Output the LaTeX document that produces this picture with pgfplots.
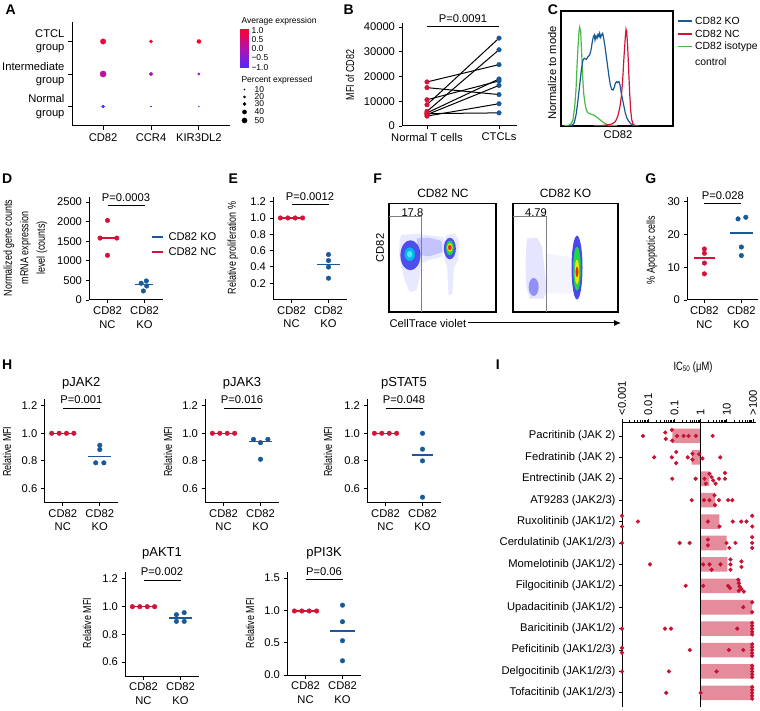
\documentclass[border=0pt]{standalone}
\usepackage{fontspec}
\setmainfont{Liberation Sans}
\newfontfamily\condensed[FakeStretch=0.78]{Liberation Sans}
\usepackage{pgfplots}
\pgfplotsset{compat=1.18}
\usetikzlibrary{arrows.meta}
\definecolor{cred}{RGB}{210,20,58}
\definecolor{cblue}{RGB}{25,90,150}
\definecolor{cgreen}{RGB}{70,185,70}
\definecolor{barcol}{RGB}{228,140,155}
\definecolor{idot}{RGB}{200,16,50}
\definecolor{halo}{RGB}{110,110,255}
\definecolor{fblue}{RGB}{40,40,235}
\definecolor{fcyan}{RGB}{0,185,235}
\definecolor{flcyan}{RGB}{80,230,240}
\definecolor{fgreen}{RGB}{30,215,70}
\definecolor{fyellow}{RGB}{245,225,0}
\definecolor{fred}{RGB}{240,40,10}
\newcommand\fs{\fontsize{11.2}{13.5}\selectfont}
\newcommand\cfs{\condensed\fontsize{11.5}{16.5}\selectfont}
\newcommand\lfs{\fontsize{8.5}{10}\selectfont}
\newcommand\tfs{\fontsize{13}{15}\selectfont}
\newcommand\letfs{\bfseries\fontsize{14}{14}\selectfont}
\pgfplotsset{
  prism/.style={
    scale only axis, anchor=south west, clip=false,
    axis x line*=bottom, axis y line*=left,
    axis line style={line width=1pt,-},
    tick align=outside, major tick length=3.5pt,
    tick style={line width=0.9pt, black},
    xmin=-0.5, xmax=1.5, width=74pt,
    xtick={0,1}, xticklabels={CD82\\NC,CD82\\KO},
    xticklabel style={align=center, font=\fs},
    yticklabel style={font=\fs},
    scaled y ticks=false,
  },
  rdot/.style={only marks, mark=*, mark size=2.3pt, color=cred},
  bdot/.style={only marks, mark=*, mark size=2.3pt, color=cblue},
  rmed/.style={color=cred, line width=1.3pt, no marks},
  bmed/.style={color=cblue, line width=1.3pt, no marks},
  pbar/.style={black, line width=1pt, no marks},
  ctclmap/.style={colormap={ctcl}{rgb255=(80,40,255) rgb255=(175,20,175) rgb255=(255,0,45)}},
}
\begin{document}
\begin{tikzpicture}[x=1pt,y=1pt]
\path[use as bounding box] (0,0) rectangle (760,710);
% ---------------- A ----------------
\begin{axis}[scale only axis, anchor=south west, at={(72pt,584pt)}, width=158pt, height=104pt, clip=false,
  xmin=-0.65, xmax=2.65, ymin=-0.6, ymax=2.6,
  axis x line*=bottom, axis y line*=left, axis line style={line width=1pt,-},
  tick align=outside, major tick length=4pt, tick style={line width=0.9pt,black},
  xtick={0,1,2}, xticklabels={CD82,CCR4,KIR3DL2},
  ytick={0,1,2}, yticklabels={Normal\\group,Intermediate\\group,CTCL\\group},
  xticklabel style={font=\fs}, yticklabel style={font=\fs, align=right},
  ctclmap, point meta min=-1, point meta max=1]
\addplot[scatter, only marks, mark=*, point meta=explicit,
  scatter/use mapped color={draw=mapped color, fill=mapped color},
  visualization depends on={\thisrow{r} \as \rr},
  scatter/@pre marker code/.append style={/tikz/mark size=\rr}]
  table[x=x, y=y, meta=c, row sep=\\] {
  x y c r\\
  0 2 0.9 2.7\\
  1 2 1.0 1.5\\
  2 2 1.0 2.0\\
  0 1 0.15 3.1\\
  1 1 0.0 1.9\\
  2 1 -0.25 1.3\\
  0 0 -1.0 1.4\\
  1 0 -0.95 0.7\\
  2 0 -0.8 0.5\\
  };
\end{axis}
% colorbar
\begin{axis}[scale only axis, anchor=south west, at={(240pt,642pt)}, width=8pt, height=39pt,
  xmin=0, xmax=1, ymin=-1.05, ymax=1.1, xtick=\empty,
  ytick={-1,-0.5,0,0.5,1}, yticklabels={−1.0,−0.5,0.0,0.5,1.0},
  yticklabel pos=right, ytick pos=right, major tick length=0pt,
  axis line style={draw=none}, yticklabel style={font=\lfs},
  ctclmap, point meta min=-1, point meta max=1]
\addplot[surf, shader=interp, mesh/cols=2, point meta=\thisrow{c}] table[row sep=\\] {
  x y c\\
  0 -1.05 -1.05\\
  1 -1.05 -1.05\\
  0 1.1 1.1\\
  1 1.1 1.1\\
  };
\end{axis}
% legends drawn in a picture-sized overlay axis (pixel units, y downward negative)
\begin{axis}[scale only axis, anchor=south west, at={(0pt,0pt)}, width=760pt, height=710pt,
  xmin=0, xmax=760, ymin=-710, ymax=0, hide axis, clip=false]
% percent expressed
\addplot[only marks, mark=*, black, mark size=0.7pt] coordinates {(244.5,-89.5)};
\addplot[only marks, mark=*, black, mark size=1.2pt] coordinates {(244.5,-97)};
\addplot[only marks, mark=*, black, mark size=1.7pt] coordinates {(244.5,-104)};
\addplot[only marks, mark=*, black, mark size=2.1pt] coordinates {(244.5,-112)};
\addplot[only marks, mark=*, black, mark size=2.6pt] coordinates {(244.5,-120.5)};
% C legend
\addplot[cblue, line width=1.3pt] coordinates {(678,-21) (692,-21)};
\addplot[cred, line width=1.3pt] coordinates {(678,-34) (692,-34)};
\addplot[cgreen, line width=1.3pt] coordinates {(678,-46.5) (692,-46.5)};
% D legend
\addplot[cblue, line width=1.2pt] coordinates {(152,-237) (163,-237)};
\addplot[cred, line width=1.2pt] coordinates {(152,-252) (163,-252)};
\end{axis}
\node[font=\lfs, anchor=west] at (251,620.5) {10};
\node[font=\lfs, anchor=west] at (251,613) {20};
\node[font=\lfs, anchor=west] at (251,606) {30};
\node[font=\lfs, anchor=west] at (251,598) {40};
\node[font=\lfs, anchor=west] at (251,589.5) {50};
\node[font=\lfs, anchor=west] at (238,689) {Average expression};
\node[font=\lfs, anchor=west] at (238,630) {Percent expressed};
\node[font=\fontsize{10.4}{12}\selectfont, anchor=west, inner sep=1pt] at (694,689) {CD82 KO};
\node[font=\fontsize{10.4}{12}\selectfont, anchor=west, inner sep=1pt] at (694,676) {CD82 NC};
\node[font=\fontsize{10.4}{12}\selectfont, anchor=west, inner sep=1pt] at (694,663.5) {CD82 isotype};
\node[font=\fontsize{10.4}{12}\selectfont, anchor=west, inner sep=1pt] at (694,648) {control};
\node[font=\fs, anchor=west] at (165,473) {CD82 KO};
\node[font=\fs, anchor=west] at (165,458) {CD82 NC};
% ---------------- B ----------------
\begin{axis}[prism, at={(402pt,584pt)}, width=115pt, height=102.7pt, xmin=-0.347, xmax=1.25, ymin=0, ymax=41500,
  xticklabels={Normal T cells,CTCLs}, ytick={0,10000,20000,30000,40000}, yticklabels={0,10000,20000,30000,40000}]
\addplot[black, line width=1pt] coordinates {(0,17800) (1,24800)};
\addplot[black, line width=1pt] coordinates {(0,15500) (1,12700)};
\addplot[black, line width=1pt] coordinates {(0,10600) (1,18200)};
\addplot[black, line width=1pt] coordinates {(0,8600) (1,35500)};
\addplot[black, line width=1pt] coordinates {(0,5900) (1,30800)};
\addplot[black, line width=1pt] coordinates {(0,5300) (1,19000)};
\addplot[black, line width=1pt] coordinates {(0,4600) (1,16400)};
\addplot[black, line width=1pt] coordinates {(0,4000) (1,9000)};
\addplot[black, line width=1pt] coordinates {(0,5000) (1,5300)};
\addplot[rdot] coordinates {(0,17800) (0,15500) (0,10600) (0,8600) (0,5900) (0,5300) (0,5000) (0,4600) (0,4000)};
\addplot[bdot] coordinates {(1,24800) (1,12700) (1,18200) (1,35500) (1,30800) (1,19000) (1,16400) (1,9000) (1,5300)};
\addplot[pbar] coordinates {(0,40200) (1,40200)};
\node[font=\fs, anchor=base, yshift=4pt] at (axis cs:0.5,40200) {P=0.0091};
\end{axis}
\node[font=\cfs, rotate=90] at (350,635) {MFI of CD82};
% ---------------- C ----------------
\begin{axis}[scale only axis, anchor=south west, at={(561pt,584pt)}, width=112pt, height=115pt,
  xmin=152, xmax=488, ymin=-378, ymax=-33, xtick=\empty, ytick=\empty,
  axis line style={line width=1.2pt}]
\addplot[cgreen, line width=1.2pt] coordinates {(160,-377.5) (175,-376) (182,-372) (188,-360) (193,-320) (197,-270) (200,-200) (203,-140) (206,-95) (208,-82) (211,-95) (214,-160) (217,-230) (220,-280) (224,-310) (228,-330) (232,-338) (240,-342) (250,-345) (258,-350) (265,-356) (272,-362) (280,-368) (290,-374) (300,-377) (320,-377.5)};
\addplot[cblue, line width=1.2pt] coordinates {(175,-377.5) (185,-376) (192,-368) (198,-340) (203,-300) (208,-255) (213,-210) (218,-180) (222,-175) (228,-178) (233,-170) (238,-165) (242,-150) (246,-125) (249,-110) (252,-105) (254,-120) (257,-108) (260,-115) (263,-103) (266,-110) (268,-100) (271,-112) (274,-104) (277,-100) (280,-115) (284,-140) (288,-170) (292,-200) (296,-230) (300,-255) (304,-268) (308,-270) (312,-262) (315,-250) (319,-245) (322,-248) (326,-245) (329,-255) (333,-280) (337,-300) (341,-320) (345,-340) (350,-355) (356,-365) (362,-372) (370,-377) (380,-377.5)};
\addplot[cred, line width=1.2pt] coordinates {(250,-377.5) (270,-377) (290,-375) (305,-372) (315,-365) (322,-350) (328,-325) (333,-290) (337,-240) (341,-170) (345,-110) (347,-88) (349,-95) (352,-140) (355,-210) (358,-280) (361,-330) (364,-358) (368,-372) (374,-377) (385,-377.5)};
\end{axis}
\node[font=\fs, rotate=90] at (552,637) {Normalize to mode};
\node[font=\fs] at (618,575) {CD82};
% ---------------- D ----------------
\begin{axis}[prism, at={(89pt,410pt)}, height=103pt, ymin=0, ymax=2628,
  ytick={0,500,1000,1500,2000,2500}, yticklabels={0,500,1000,1500,2000,2500}]
\addplot[rmed] coordinates {(-0.27,1580) (0.25,1580)};
\addplot[rdot] coordinates {(0,2030) (-0.2,1580) (0.25,1580) (0,1140)};
\addplot[bmed] coordinates {(0.73,401) (1.24,401)};
\addplot[bdot] coordinates {(0.91,427) (1.05,486) (1.06,358) (0.97,230)};
\addplot[pbar] coordinates {(0,2420) (1,2420)};
\node[font=\fs, anchor=base, yshift=4pt] at (axis cs:0.5,2420) {P=0.0003};
\end{axis}
\node[font=\cfs, rotate=90, align=center] at (25.5,462) {Normalized gene counts\\mRNA expression\\level (counts)};
% ---------------- E ----------------
\begin{axis}[prism, at={(273pt,410.4pt)}, height=102.6pt, ymin=0, ymax=1.257,
  ytick={0.2,0.4,0.6,0.8,1.0,1.2}, yticklabels={0.2,0.4,0.6,0.8,1.0,1.2}]
\addplot[rmed] coordinates {(-0.32,1) (0.32,1)};
\addplot[rdot] coordinates {(-0.3,1) (-0.1,1) (0.1,1) (0.3,1)};
\addplot[bmed] coordinates {(0.7,0.428) (1.3,0.428)};
\addplot[bdot] coordinates {(1,0.552) (1,0.478) (1,0.399) (1,0.262)};
\addplot[pbar] coordinates {(0,1.16) (1,1.16)};
\node[font=\fs, anchor=base, yshift=4pt] at (axis cs:0.5,1.16) {P=0.0012};
\end{axis}
\node[font=\cfs, rotate=90] at (233,462) {Relative proliferation \%};
% ---------------- F ----------------
\begin{axis}[scale only axis, anchor=south west, at={(389pt,398pt)}, width=107pt, height=108.5pt,
  xmin=58, xmax=378, ymin=-935, ymax=-610, xtick=\empty, ytick=\empty, axis line style={line width=1.1pt}]
\addplot[fill=halo, draw=none, fill opacity=0.16] coordinates {(95,-705) (140,-700) (170,-705) (220,-710) (228,-740) (215,-770) (175,-780) (155,-790) (150,-830) (140,-870) (120,-875) (105,-840) (95,-800) (88,-760) (90,-720)};
\addplot[fill=halo, draw=none, fill opacity=0.16] coordinates {(228,-705) (255,-700) (268,-720) (265,-780) (252,-800) (248,-880) (236,-885) (232,-800) (224,-780) (222,-730)};
\addplot[fill=halo, draw=none, fill opacity=0.3] coordinates {(140,-715) (175,-712) (215,-722) (218,-755) (180,-768) (150,-765)};
\addplot[only marks, mark=*, color=fblue, fill opacity=0.8, draw opacity=0, mark size=10pt, mark options={yscale=1.5}] coordinates {(122,-765)};
\addplot[only marks, mark=*, color=fcyan, mark size=5pt, mark options={yscale=1.3}] coordinates {(120,-762)};
\addplot[only marks, mark=*, color=flcyan, mark size=2.5pt, mark options={yscale=1.2}] coordinates {(120,-762)};
\addplot[only marks, mark=*, color=fblue, fill opacity=0.8, draw opacity=0, mark size=6pt, mark options={yscale=1.8}] coordinates {(240,-745)};
\addplot[only marks, mark=*, color=fgreen, mark size=3.5pt, mark options={yscale=2}] coordinates {(240,-743)};
\addplot[only marks, mark=*, color=fyellow, mark size=2.5pt, mark options={yscale=1.6}] coordinates {(240,-742)};
\addplot[only marks, mark=*, color=fred, mark size=1.5pt, mark options={yscale=1.7}] coordinates {(240,-742)};
\addplot[gray, line width=0.8pt] coordinates {(58,-650) (155,-650) (155,-935)};
\node[font=\fs] at (axis cs:128,-636) {17.8};
\end{axis}
\begin{axis}[scale only axis, anchor=south west, at={(513pt,398pt)}, width=105pt, height=108.5pt,
  xmin=428, xmax=743, ymin=-935, ymax=-610, xtick=\empty, ytick=\empty, axis line style={line width=1.1pt}]
\addplot[fill=halo, draw=none, fill opacity=0.18] coordinates {(470,-715) (500,-712) (515,-740) (522,-800) (530,-870) (520,-895) (478,-895) (468,-860) (465,-790) (468,-740)};
\addplot[fill=halo, draw=none, fill opacity=0.08] coordinates {(525,-760) (600,-770) (605,-880) (530,-880)};
\addplot[only marks, mark=*, color=fblue, fill opacity=0.45, draw opacity=0, mark size=5pt, mark options={yscale=1.8}] coordinates {(490,-860)};
\addplot[only marks, mark=*, color=fblue, fill opacity=0.85, draw opacity=0, mark size=5.5pt, mark options={yscale=5.8}] coordinates {(620,-802)};
\addplot[only marks, mark=*, color=fgreen, mark size=3.5pt, mark options={yscale=6.2}] coordinates {(620,-805)};
\addplot[only marks, mark=*, color=fyellow, mark size=2pt, mark options={yscale=6}] coordinates {(620,-815)};
\addplot[only marks, mark=*, color=fred, mark size=1.2pt, mark options={yscale=4}] coordinates {(620,-815)};
\addplot[gray, line width=0.8pt] coordinates {(428,-650) (527,-650) (527,-935)};
\node[font=\fs] at (axis cs:497,-636) {4.79};
\end{axis}
\node[font=\fontsize{12}{14}\selectfont] at (443,517) {CD82 NC};
\node[font=\fontsize{12}{14}\selectfont] at (565.5,517) {CD82 KO};
\node[font=\fs, rotate=90] at (380,462) {CD82};
\node[font=\fs, anchor=west] at (386,387) {CellTrace violet};
\draw[line width=1pt, -{Latex[length=7pt,width=6pt]}] (468,387) -- (621,387);
% ---------------- G ----------------
\begin{axis}[prism, at={(687pt,410pt)}, width=71pt, height=103pt, xmin=-0.47, xmax=1.45, ymin=0, ymax=31.5,
  ytick={0,10,20,30}, yticklabels={0,10,20,30}]
\addplot[rmed] coordinates {(-0.28,12.8) (0.28,12.8)};
\addplot[rdot] coordinates {(0,15.6) (0,14.3) (0,11.3) (0,8.0)};
\addplot[bmed] coordinates {(0.7,20.5) (1.32,20.5)};
\addplot[bdot] coordinates {(0.91,24.8) (1.12,25.3) (1,16.2) (1,13.6)};
\addplot[pbar] coordinates {(0,29.4) (1,29.4)};
\node[font=\fs, anchor=base, yshift=4pt] at (axis cs:0.5,29.4) {P=0.028};
\end{axis}
\node[font=\cfs, rotate=90] at (652,460) {\% Apoptotic cells};
% ---------------- H ----------------
\begin{axis}[prism, at={(44.3pt,207.7pt)}, height=103pt, ymin=0.5, ymax=1.246,
  ytick={0.6,0.8,1.0,1.2}, yticklabels={0.6,0.8,1.0,1.2}]
\addplot[rmed] coordinates {(-0.32,1) (0.32,1)};
\addplot[rdot] coordinates {(-0.3,1) (-0.1,1) (0.1,1) (0.3,1)};
\addplot[bmed] coordinates {(0.69,0.834) (1.31,0.834)};
\addplot[bdot] coordinates {(1,0.913) (1,0.882) (0.89,0.786) (1.11,0.786)};
\addplot[pbar] coordinates {(0,1.18) (1,1.18)};
\node[font=\fs, anchor=base, yshift=4.5pt] at (axis cs:0.5,1.18) {P=0.001};
\end{axis}
\begin{axis}[prism, at={(205pt,207.7pt)}, height=103pt, ymin=0.5, ymax=1.246,
  ytick={0.6,0.8,1.0,1.2}, yticklabels={0.6,0.8,1.0,1.2}]
\addplot[rmed] coordinates {(-0.32,1) (0.32,1)};
\addplot[rdot] coordinates {(-0.3,1) (-0.1,1) (0.1,1) (0.3,1)};
\addplot[bmed] coordinates {(0.7,0.94) (1.3,0.94)};
\addplot[bdot] coordinates {(0.81,0.956) (1,0.932) (1.2,0.956) (1,0.812)};
\addplot[pbar] coordinates {(0,1.18) (1,1.18)};
\node[font=\fs, anchor=base, yshift=4.5pt] at (axis cs:0.5,1.18) {P=0.016};
\end{axis}
\begin{axis}[prism, at={(367pt,207.7pt)}, height=103pt, ymin=0.5, ymax=1.246,
  ytick={0.6,0.8,1.0,1.2}, yticklabels={0.6,0.8,1.0,1.2}]
\addplot[rmed] coordinates {(-0.32,1) (0.32,1)};
\addplot[rdot] coordinates {(-0.3,1) (-0.1,1) (0.1,1) (0.3,1)};
\addplot[bmed] coordinates {(0.72,0.843) (1.28,0.843)};
\addplot[bdot] coordinates {(1,1.0) (1,0.885) (1,0.80) (1,0.537)};
\addplot[pbar] coordinates {(0,1.18) (1,1.18)};
\node[font=\fs, anchor=base, yshift=4.5pt] at (axis cs:0.5,1.18) {P=0.048};
\end{axis}
\begin{axis}[prism, at={(125pt,34pt)}, height=104pt, ymin=0.5, ymax=1.25,
  ytick={0.6,0.8,1.0,1.2}, yticklabels={0.6,0.8,1.0,1.2}]
\addplot[rmed] coordinates {(-0.32,1) (0.32,1)};
\addplot[rdot] coordinates {(-0.3,1) (-0.1,1) (0.1,1) (0.3,1)};
\addplot[bmed] coordinates {(0.7,0.918) (1.3,0.918)};
\addplot[bdot] coordinates {(0.89,0.942) (1.1,0.957) (0.89,0.894) (1.1,0.894)};
\addplot[pbar] coordinates {(0,1.19) (1,1.19)};
\node[font=\fs, anchor=base, yshift=4.5pt] at (axis cs:0.5,1.19) {P=0.002};
\end{axis}
\begin{axis}[prism, at={(287pt,35pt)}, height=103pt, ymin=0, ymax=1.593,
  ytick={0,0.5,1,1.5}, yticklabels={0.0,0.5,1.0,1.5}]
\addplot[rmed] coordinates {(-0.32,0.99) (0.32,0.99)};
\addplot[rdot] coordinates {(-0.3,0.99) (-0.1,0.99) (0.1,0.99) (0.3,0.99)};
\addplot[bmed] coordinates {(0.67,0.68) (1.33,0.68)};
\addplot[bdot] coordinates {(1,1.08) (1,0.824) (1,0.53) (1,0.22)};
\addplot[pbar] coordinates {(0,1.47) (1,1.47)};
\node[font=\fs, anchor=base, yshift=4.5pt] at (axis cs:0.5,1.47) {P=0.06};
\end{axis}
\node[font=\tfs] at (81.3,327) {pJAK2};
\node[font=\tfs] at (242,327) {pJAK3};
\node[font=\tfs] at (404,327) {pSTAT5};
\node[font=\tfs] at (162,157) {pAKT1};
\node[font=\tfs] at (324,157) {pPI3K};
\node[font=\cfs, rotate=90] at (7,258.3) {Relative MFI};
\node[font=\cfs, rotate=90] at (168,258.3) {Relative MFI};
\node[font=\cfs, rotate=90] at (328,258.3) {Relative MFI};
\node[font=\cfs, rotate=90] at (87,87) {Relative MFI};
\node[font=\cfs, rotate=90] at (250,87) {Relative MFI};
% ---------------- I ----------------
\begin{axis}[scale only axis, anchor=south west, at={(622pt,3pt)}, width=133.6pt, height=285pt, clip=false,
  xmin=-3, xmax=2.1, ymin=-12.66, ymax=0.65,
  axis x line*=top, axis y line*=left, axis line style={line width=1pt,-},
  tick align=outside, major tick length=4pt, minor tick length=2.2pt, tick style={line width=0.8pt,black},
  xtick={-3,-2,-1,0,1,2}, xticklabels={<0.001,0.01,0.1,1,10,>100},
  minor xtick={-2.699,-2.523,-2.398,-2.301,-2.222,-2.155,-2.097,-2.046,-1.699,-1.523,-1.398,-1.301,-1.222,-1.155,-1.097,-1.046,-0.699,-0.523,-0.398,-0.301,-0.222,-0.155,-0.097,-0.046,0.301,0.477,0.602,0.699,0.778,0.845,0.903,0.954,1.301,1.477,1.602,1.699,1.778,1.845,1.903,1.954},
  xticklabel style={rotate=90, anchor=west, font=\fs},
  ytick={-12,-11,-10,-9,-8,-7,-6,-5,-4,-3,-2,-1,0},
  yticklabels={Tofacitinib (JAK1/2/3),Delgocitinib (JAK1/2/3),Peficitinib (JAK1/2/3),Baricitinib (JAK1/2),Upadacitinib (JAK1/2),Filgocitinib (JAK1/2),Momelotinib (JAK1/2),Cerdulatinib (JAK1/2/3),Ruxolitinib (JAK1/2),AT9283 (JAK2/3),Entrectinib (JAK 2),Fedratinib (JAK 2),Pacritinib (JAK 2)},
  yticklabel style={font=\fs}, major tick length=3pt]
\addplot[xbar, bar width=0.68, fill=barcol, draw=none] coordinates {(-1.08,0) (-0.34,-1) (0.34,-2) (0.55,-3) (0.72,-4) (0.99,-5) (1.02,-6) (1.52,-7) (1.97,-8) (1.97,-9) (1.97,-10) (1.97,-11) (1.97,-12)};
\addplot[black, line width=1pt] coordinates {(0,-12.66) (0,0.65)};
\addplot[only marks, mark=*, mark size=1.9pt, color=idot] coordinates {
(-2.2,0) (-1.35,0.16) (-1.33,-0.14) (-1.1,0.28) (-1.08,-0.22) (-0.9,0) (-0.65,0) (-0.46,0) (-0.18,0) (0.46,0)
(-1.77,-1) (-1.1,-1) (-0.93,-0.75) (-0.93,-1.27) (-0.49,-1) (-0.31,-0.83) (-0.31,-1.11) (-0.05,-0.85) (0.07,-1.05) (0.75,-1)
(-1.08,-2) (-0.19,-2) (0.15,-2) (0.2,-2.23) (0.34,-1.77) (0.42,-1.92) (0.48,-2.08) (0.57,-2.23) (0.70,-2) (0.93,-1.73) (0.93,-2)
(-0.34,-3) (0.13,-3) (0.34,-3) (0.53,-2.77) (0.55,-3.23) (0.70,-3) (1.05,-3) (1.21,-3)
(-3,-3.73) (-3,-4.23) (-2.39,-4) (0.28,-4) (0.72,-4.23) (1.23,-4) (1.55,-4) (1.75,-4) (1.97,-3.73) (1.97,-4.23)
(-3,-5) (-0.80,-5) (-0.42,-5) (0.28,-4.84) (0.28,-5.11) (0.99,-5) (1.1,-5.23) (1.33,-5) (1.97,-4.73) (1.97,-5) (1.97,-5.23)
(-1.93,-6) (0.10,-6) (0.34,-6) (0.42,-6.25) (0.76,-6) (1.14,-5.77) (1.14,-6) (1.14,-6.25) (1.56,-5.86) (1.56,-6.12)
(-0.57,-7) (0.10,-7) (1.05,-7) (1.12,-7.1) (1.44,-6.72) (1.46,-6.88) (1.49,-7.03) (1.46,-7.23) (1.56,-7.15) (1.65,-7.27)
(1.63,-8) (1.97,-7.77) (1.97,-8.23)
(-3,-9) (-1.36,-9) (-1.13,-9) (1.40,-9) (1.97,-8.73) (1.97,-8.86) (1.97,-9) (1.97,-9.14) (1.97,-9.27)
(-3,-9.9) (-3,-10.12) (-0.41,-10) (1.08,-10) (1.63,-10) (1.97,-9.73) (1.97,-9.86) (1.97,-10) (1.97,-10.14) (1.97,-10.27)
(-3,-11) (-1.21,-11) (0.61,-11) (1.97,-10.73) (1.97,-10.86) (1.97,-11) (1.97,-11.14) (1.97,-11.27)
(-1.31,-12) (0,-12) (1.97,-11.73) (1.97,-11.86) (1.97,-12) (1.97,-12.14) (1.97,-12.27)
};
\end{axis}
\node[font=\condensed\fontsize{12}{14}\selectfont] at (693,343) {IC\textsubscript{50} (μM)};
% ---------------- panel letters ----------------
\node[font=\letfs] at (10.7,700) {A};
\node[font=\letfs] at (348.7,700) {B};
\node[font=\letfs] at (553,700) {C};
\node[font=\letfs] at (7.3,531.7) {D};
\node[font=\letfs] at (233.3,531.7) {E};
\node[font=\letfs] at (377.7,531.7) {F};
\node[font=\letfs] at (650.7,531.7) {G};
\node[font=\letfs] at (7.3,345) {H};
\node[font=\letfs] at (497.7,345) {I};
\end{tikzpicture}
\end{document}
